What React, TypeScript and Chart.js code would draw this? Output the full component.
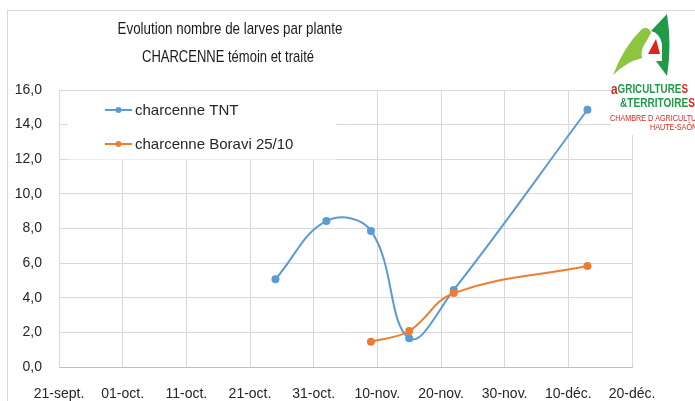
import React, { useEffect, useRef } from "react";
import { Chart, registerables } from "chart.js";

Chart.register(...registerables);

// ---- data ----
const xTickLabels = ["21-sept.", "01-oct.", "11-oct.", "21-oct.", "31-oct.", "10-nov.", "20-nov.", "30-nov.", "10-déc.", "20-déc."];
// days counted from 21-sept.
const tntDates = ["25-oct.", "02-nov.", "09-nov.", "15-nov.", "22-nov.", "13-déc."];
const tntDays = [34, 42, 49, 55, 62, 83];
const tntValues = [5.07, 8.43, 7.86, 1.66, 4.45, 14.86];

const boraviDates = ["09-nov.", "15-nov.", "22-nov.", "13-déc."];
const boraviDays = [49, 55, 62, 83];
const boraviValues = [1.46, 2.08, 4.27, 5.83];

const seriesLabels = ["charcenne TNT", "charcenne Boravi 25/10"];
const titleLines = ["Evolution nombre de larves par plante", "CHARCENNE témoin et traité"];

const BLUE = "#5B9BD5";
const ORANGE = "#ED7D31";
const GRID = "#D9D9D9";
const FONT = "'Liberation Sans', Arial, sans-serif";

function condensedText(ctx: CanvasRenderingContext2D, text: string, x: number, y: number, sx: number) {
  ctx.save();
  ctx.translate(x, y);
  ctx.scale(sx, 1);
  ctx.fillText(text, 0, 0);
  ctx.restore();
}

function drawLogo(ctx: CanvasRenderingContext2D) {
  ctx.save();
  ctx.fillStyle = "#ffffff";
  ctx.fillRect(611, 11, 90, 124);
  // light green wing
  ctx.fillStyle = "#8CC63F";
  ctx.beginPath();
  ctx.moveTo(613, 75);
  ctx.quadraticCurveTo(624, 46, 642, 29);
  ctx.quadraticCurveTo(649, 26, 651, 33);
  ctx.lineTo(646, 42);
  ctx.quadraticCurveTo(640, 50, 642, 58);
  ctx.quadraticCurveTo(626, 62, 613, 75);
  ctx.closePath();
  ctx.fill();
  // dark green crescent
  ctx.fillStyle = "#1F9B48";
  ctx.beginPath();
  ctx.moveTo(667, 14);
  ctx.quadraticCurveTo(672, 45, 667, 76);
  ctx.lineTo(656, 61);
  ctx.lineTo(662, 61);
  ctx.lineTo(662, 44);
  ctx.quadraticCurveTo(660, 33, 651, 31);
  ctx.closePath();
  ctx.fill();
  // red triangle
  ctx.fillStyle = "#E2231A";
  ctx.beginPath();
  ctx.moveTo(648, 54);
  ctx.lineTo(656, 39);
  ctx.lineTo(660, 54);
  ctx.closePath();
  ctx.fill();
  // texts
  ctx.textBaseline = "middle";
  ctx.textAlign = "left";
  ctx.font = "bold 14px " + FONT;
  ctx.fillStyle = "#E2231A";
  condensedText(ctx, "a", 611, 90, 0.85);
  const aw = ctx.measureText("a").width * 0.85;
  ctx.font = "bold 12px " + FONT;
  ctx.fillStyle = "#1F9B48";
  condensedText(ctx, "GRICULTURE", 611 + aw, 90, 0.82);
  const gw = ctx.measureText("GRICULTURE").width * 0.82;
  ctx.fillStyle = "#E2231A";
  condensedText(ctx, "S", 611 + aw + gw, 90, 0.82);
  ctx.fillStyle = "#1F9B48";
  condensedText(ctx, "&TERRITOIRE", 620, 104, 0.84);
  const tw = ctx.measureText("&TERRITOIRE").width * 0.84;
  ctx.fillStyle = "#E2231A";
  condensedText(ctx, "S", 620 + tw, 104, 0.84);
  ctx.font = "9px " + FONT;
  condensedText(ctx, "CHAMBRE D AGRICULTURE", 610, 119, 0.8);
  condensedText(ctx, "HAUTE-SAÔNE", 650, 128, 0.8);
  ctx.restore();
}

const decorPlugin = {
  id: "decor",
  beforeDraw(chart: any) {
    const ctx = chart.ctx as CanvasRenderingContext2D;
    ctx.save();
    ctx.fillStyle = "#ffffff";
    ctx.fillRect(0, 0, chart.width, chart.height);
    ctx.strokeStyle = GRID;
    ctx.lineWidth = 1;
    ctx.strokeRect(7.5, 10.5, 720, 420);
    ctx.restore();
  },
  beforeDatasetsDraw(chart: any) {
    const ctx = chart.ctx as CanvasRenderingContext2D;
    ctx.save();
    ctx.fillStyle = "#ffffff";
    ctx.fillRect(68, 91.5, 268, 68);
    const rows = [110, 144];
    const colors = [BLUE, ORANGE];
    seriesLabels.forEach((lab, i) => {
      const y = rows[i];
      ctx.strokeStyle = colors[i];
      ctx.lineWidth = 2;
      ctx.beginPath();
      ctx.moveTo(105, y);
      ctx.lineTo(132, y);
      ctx.stroke();
      ctx.fillStyle = colors[i];
      ctx.beginPath();
      ctx.arc(118.5, y, 3, 0, Math.PI * 2);
      ctx.fill();
      ctx.fillStyle = "#262626";
      ctx.font = "15px " + FONT;
      ctx.textBaseline = "middle";
      ctx.textAlign = "left";
      ctx.fillText(lab, 135, y + 1);
    });
    ctx.restore();
  },
  afterDraw(chart: any) {
    const ctx = chart.ctx as CanvasRenderingContext2D;
    ctx.save();
    ctx.fillStyle = "#1a1a1a";
    ctx.font = "17px " + FONT;
    ctx.textAlign = "center";
    ctx.textBaseline = "middle";
    condensedText(ctx, titleLines[0], 230, 29, 0.785);
    condensedText(ctx, titleLines[1], 228, 57, 0.765);
    ctx.restore();
    drawLogo(ctx);
  },
};

export default function App() {
  const ref = useRef<HTMLCanvasElement>(null);
  useEffect(() => {
    document.body.style.margin = "0";
    const canvas = ref.current!;
    const chart = new Chart(canvas, {
      type: "line",
      data: {
        datasets: [
          {
            label: seriesLabels[0],
            data: tntDays.map((d, i) => ({ x: d, y: tntValues[i] })),
            borderColor: BLUE,
            backgroundColor: BLUE,
            borderWidth: 2,
            pointRadius: 4,
            pointBorderWidth: 0,
            tension: 0.4,
            order: 1,
          },
          {
            label: seriesLabels[1],
            data: boraviDays.map((d, i) => ({ x: d, y: boraviValues[i] })),
            borderColor: ORANGE,
            backgroundColor: ORANGE,
            borderWidth: 2,
            pointRadius: 4,
            pointBorderWidth: 0,
            tension: 0.4,
            order: 0,
          },
        ],
      },
      options: {
        responsive: false,
        animation: false,
        devicePixelRatio: 1,
        layout: { padding: { left: 0, right: 63, top: 90, bottom: 0 } },
        plugins: { legend: { display: false }, title: { display: false }, tooltip: { enabled: false } },
        scales: {
          x: {
            type: "linear",
            min: 0,
            max: 90,
            afterFit: (s: any) => { s.height = 34; },
            ticks: {
              stepSize: 10,
              autoSkip: false,
              maxRotation: 0,
              padding: 19,
              color: "#262626",
              font: { family: FONT, size: 14 },
              callback: (v: any) => xTickLabels[Math.round(Number(v) / 10)] ?? "",
            },
            grid: { color: GRID, drawTicks: false, lineWidth: 1 },
            border: { display: true, color: "#BFBFBF" },
          },
          y: {
            min: 0,
            max: 16,
            afterFit: (s: any) => { s.width = 59; },
            ticks: {
              stepSize: 2,
              padding: 17,
              color: "#262626",
              font: { family: FONT, size: 14 },
              callback: (v: any) => Number(v).toFixed(1).replace(".", ","),
            },
            grid: { color: GRID, drawTicks: false, lineWidth: 1 },
            border: { display: false },
          },
        },
      },
      plugins: [decorPlugin],
    });
    return () => chart.destroy();
  }, []);
  return <canvas ref={ref} width={695} height={401} style={{ display: "block" }} />;
}
